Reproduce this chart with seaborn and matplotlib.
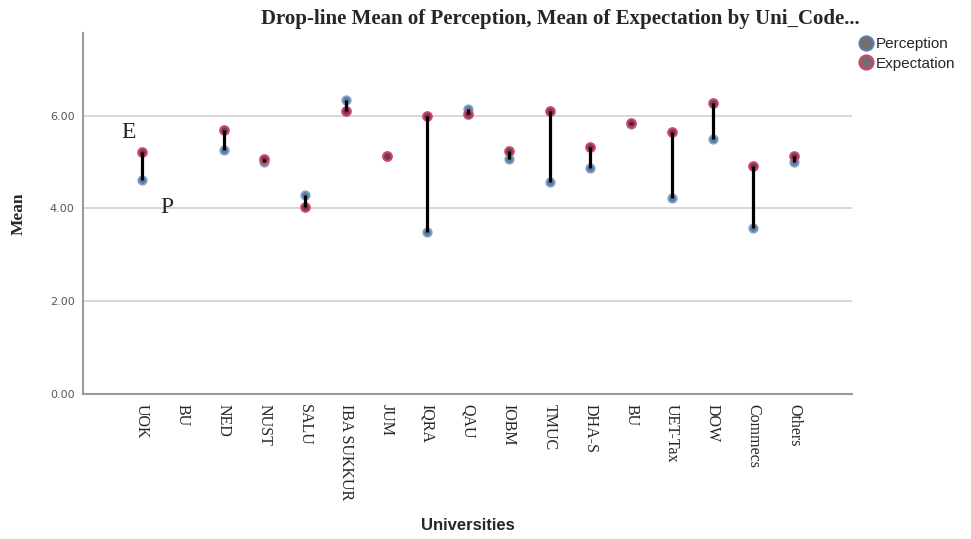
import numpy as np
import pandas as pd
import seaborn as sns
import matplotlib.pyplot as plt
from matplotlib.lines import Line2D

# data
universities = ['UOK', 'BU', 'NED', 'NUST', 'SALU', 'IBA SUKKUR', 'JUM', 'IQRA', 'QAU',
                'IOBM', 'TMUC', 'DHA-S', 'BU', 'UET-Tax', 'DOW', 'Commecs', 'Others']
perception = [4.62, np.nan, 5.25, 5.00, 4.29, 6.34, 5.12, 3.49, 6.14,
              5.07, 4.57, 4.88, 5.82, 4.22, 5.50, 3.58, 5.01]
expectation = [5.21, np.nan, 5.69, 5.06, 4.03, 6.09, 5.12, 6.00, 6.04,
               5.23, 6.10, 5.32, 5.85, 5.64, 6.27, 4.92, 5.13]
y_ticks = [0, 2, 4, 6]

df = pd.DataFrame({
    'pos': range(len(universities)),
    'Uni': universities,
    'Perception': perception,
    'Expectation': expectation,
})

sns.set_style('white')
fig = plt.figure(figsize=(9.71, 5.39), dpi=100)
ax = fig.add_axes([0.0855, 0.2685, 0.7919, 0.6705])

# gridlines
for t in y_ticks[1:]:
    ax.axhline(t, color='#d4d4d4', lw=1.3, zorder=0)

# dots
sns.scatterplot(data=df, x='pos', y='Perception', color='#5b7ea6', edgecolor='#86a3c4',
                s=38, linewidth=1.2, ax=ax, zorder=2, legend=False)
sns.scatterplot(data=df, x='pos', y='Expectation', color='#6e3a4e', edgecolor='#d2446a',
                s=38, linewidth=1.5, ax=ax, zorder=2, legend=False)

# drop lines
ax.vlines(df['pos'], df['Perception'], df['Expectation'], color='black', lw=2.3, zorder=3)

ax.set_xlim(-1.45, 17.42)
ax.set_ylim(0, 7.78)
ax.set_xticks(df['pos'])
ax.set_xticklabels(universities, rotation=270, family='Liberation Serif', fontsize=11.5,
                   va='top', ha='center')
ax.set_yticks(y_ticks)
ax.set_yticklabels([f'{t:.2f}' for t in y_ticks], color='#555555', fontsize=8,
                   family='DejaVu Sans')
ax.tick_params(axis='both', length=0, pad=6)
ax.tick_params(axis='x', pad=7)

for side in ['top', 'right']:
    ax.spines[side].set_visible(False)
for side in ['left', 'bottom']:
    ax.spines[side].set_color('#9a9a9a')
    ax.spines[side].set_linewidth(1.5)

ax.set_xlabel('Universities', fontsize=12, fontweight='bold', family='Liberation Sans',
              labelpad=13)
ax.set_ylabel('Mean', fontsize=12.5, fontweight='bold', family='Liberation Serif',
              labelpad=17)

# E / P annotations
ax.text(-0.34, 5.63, 'E', family='Liberation Serif', fontsize=17, ha='center', va='center')
ax.text(0.61, 4.03, 'P', family='Liberation Serif', fontsize=17, ha='center', va='center')

fig.text(0.577, 0.964, 'Drop-line Mean of Perception, Mean of Expectation by Uni_Code...',
         family='Liberation Serif', fontweight='bold', fontsize=15, ha='center', va='center')

handles = [
    Line2D([], [], marker='o', ls='', markersize=10, markerfacecolor='#707070',
           markeredgecolor='#5b7ea6', markeredgewidth=1.6, label='Perception'),
    Line2D([], [], marker='o', ls='', markersize=10, markerfacecolor='#707070',
           markeredgecolor='#d2446a', markeredgewidth=1.6, label='Expectation'),
]
fig.legend(handles=handles, loc='upper left', bbox_to_anchor=(0.878, 0.942), frameon=False,
           handletextpad=0.15, labelspacing=0.35, borderaxespad=0, handlelength=1.0,
           prop={'family': 'Liberation Sans', 'size': 11})

fig.savefig('out.png', dpi=100)
